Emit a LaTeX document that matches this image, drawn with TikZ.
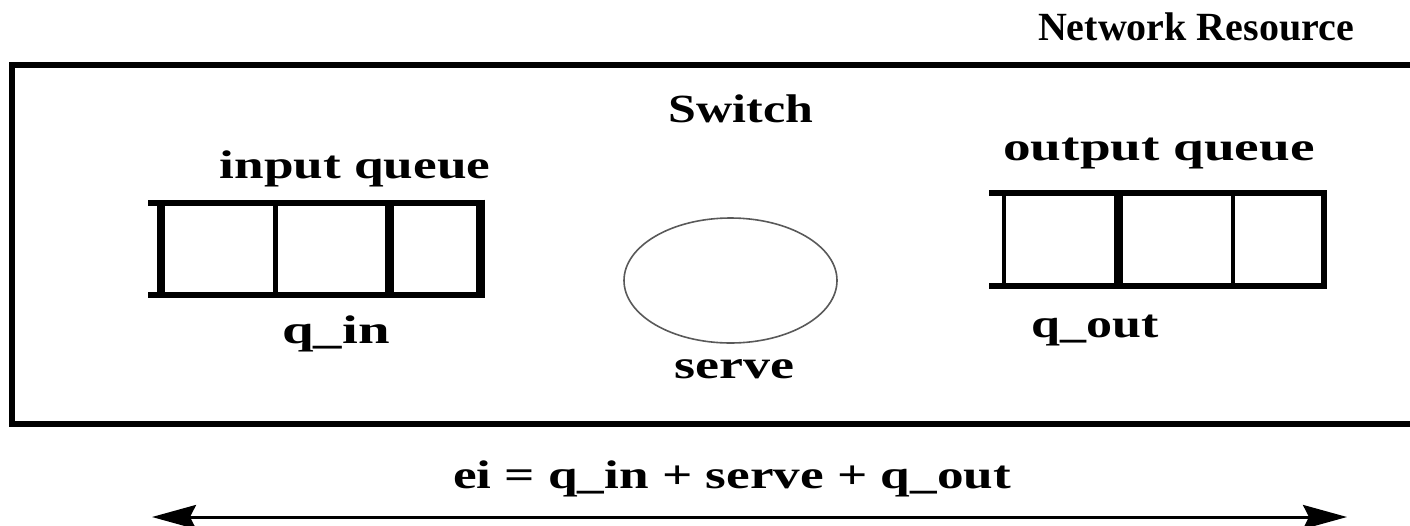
\documentclass[tikz,border=0pt]{standalone}
\usepackage{fontspec}
\usepackage{graphicx}
\setmainfont{Liberation Serif}
\usetikzlibrary{arrows.meta,shapes.geometric}
\tikzset{
  lbl/.style={font=\fontsize{40}{44}\selectfont\bfseries, anchor=base, inner sep=0pt},
  frame/.style={line width=6pt},
  qline/.style={line width=6pt},
  srv/.style={line width=1.6pt, draw=black!65},
  span/.style={line width=3pt, {Stealth[length=44pt,width=24pt,inset=6pt]}-{Stealth[length=44pt,width=24pt,inset=6pt]}}
}
\begin{document}
\begin{tikzpicture}[x=1pt,y=-1pt]
\useasboundingbox (0,0) rectangle (1410,525);
\clip (0,0) rectangle (1410,525);
% outer frame (right edge runs past the picture)
\draw[frame] (1420,65) -- (12,65) -- (12,424) -- (1420,424);
% input queue
\draw[qline] (148,202.5) -- (483,202.5);
\draw[qline] (148,295) -- (483,295);
\draw[line width=8pt] (161,202.5) -- (161,295);
\draw[line width=5pt] (275.5,202.5) -- (275.5,295);
\draw[line width=9pt] (389.5,202.5) -- (389.5,295);
\draw[line width=9pt] (480.5,199.5) -- (480.5,298);
% output queue
\draw[qline] (989,193) -- (1327,193);
\draw[qline] (989,286) -- (1327,286);
\draw[line width=4pt] (1004,193) -- (1004,286);
\draw[line width=9pt] (1118.5,193) -- (1118.5,286);
\draw[line width=4pt] (1233,193) -- (1233,286);
\draw[line width=6pt] (1324,190) -- (1324,289);
% switch
\node[srv, ellipse, draw, minimum width=213pt, minimum height=125pt, inner sep=0pt] (sw) at (730.5,280.5) {};
% labels
\node[lbl] (netres) at (1196,40) {Network Resource};
\node[lbl] (switch) at (741,122) {\scalebox{1.25}[1]{Switch}};
\node[lbl] (inq) at (355,178) {\scalebox{1.33}[1]{input queue}};
\node[lbl] (outq) at (1159,160) {\scalebox{1.38}[1]{output queue}};
\node[lbl] (qin) at (336,343) {\scalebox{1.42}[1]{q\_in}};
\node[lbl] (serve) at (734,378) {\scalebox{1.35}[1]{serve}};
\node[lbl] (qout) at (1095,337) {\scalebox{1.3}[1]{q\_out}};
\node[lbl] (eq) at (732,488) {\scalebox{1.33}[1]{ei = q\_in + serve + q\_out}};
% span arrow
\coordinate (aL) at (152,517);
\coordinate (aR) at (1347,517);
\draw[span] (aL) -- (aR);
\end{tikzpicture}
\end{document}
